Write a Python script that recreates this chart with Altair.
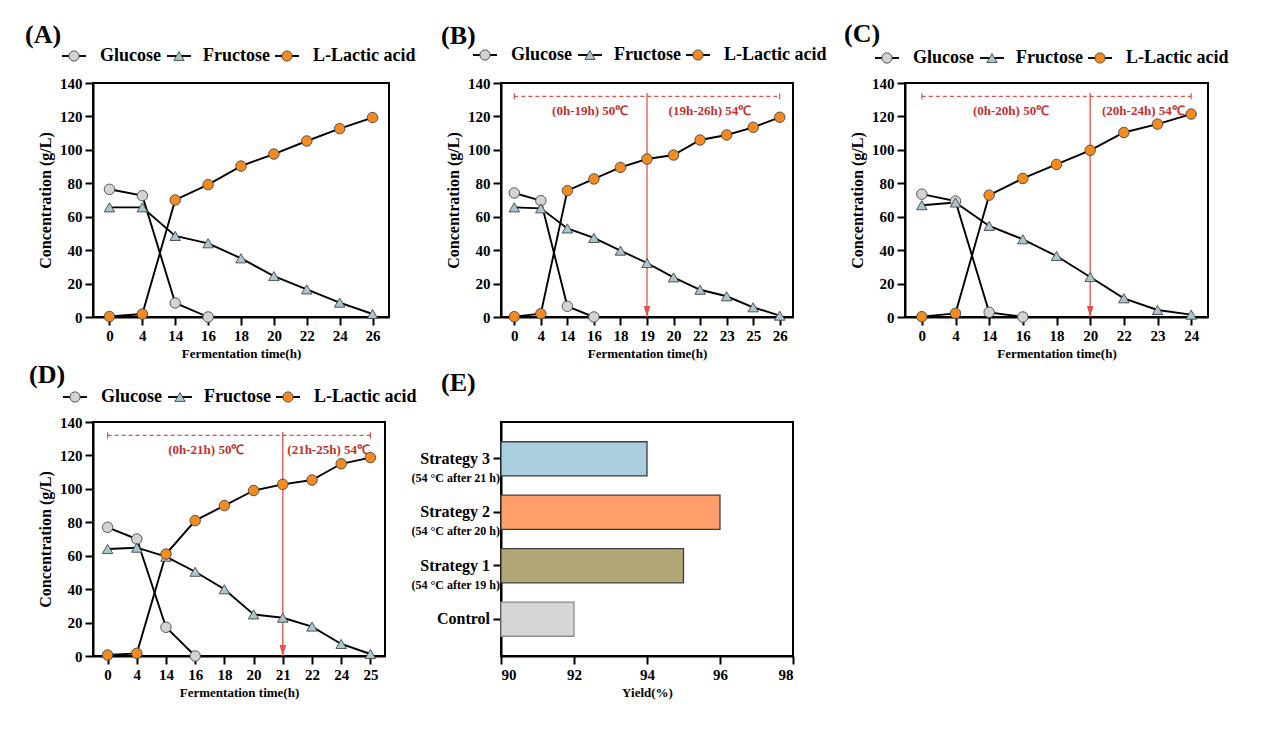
import altair as alt
import pandas as pd

FONT = "Liberation Serif"

# ---------------- fermentation time courses (g/L) ----------------
a_hours = [0, 4, 14, 16, 18, 20, 22, 24, 26]
a_glucose = [76.4, 72.6, 8.4, 0]
a_fructose = [65.6, 65.6, 48.5, 44.1, 35.1, 24.5, 16.5, 8.6, 1.8]
a_lactic = [0.3, 1.8, 70, 79.2, 90.3, 97.5, 105.3, 112.7, 119.3]

b_hours = [0, 4, 14, 16, 18, 19, 20, 22, 23, 25, 26]
b_glucose = [74.2, 69.6, 6.4, 0]
b_fructose = [65.6, 65, 53, 47.3, 39.7, 32.3, 23.7, 16.3, 12.4, 5.8, 0.8]
b_lactic = [0.2, 2, 75.6, 82.6, 89.5, 94.5, 96.9, 105.9, 108.9, 113.5, 119.5]

c_hours = [0, 4, 14, 16, 18, 20, 22, 23, 24]
c_glucose = [73.5, 69.3, 2.8, 0]
c_fructose = [66.9, 68.5, 54.5, 46.5, 36.5, 23.9, 11.2, 4.2, 1.4]
c_lactic = [0.2, 2.2, 72.9, 82.9, 91.3, 99.7, 110.4, 115.4, 121.4]

d_hours = [0, 4, 14, 16, 18, 20, 21, 22, 24, 25]
d_glucose = [77, 70, 17.2, 0]
d_fructose = [64, 64.8, 59.4, 50.4, 39.9, 24.9, 22.9, 17.6, 7.2, 1.2]
d_lactic = [0.6, 1.6, 61, 81, 90, 99, 102.7, 105.3, 115, 118.7]

# ---------------- yield comparison (%) ----------------
groups = ["Strategy 3", "Strategy 2", "Strategy 1", "Control"]
conditions = ["(54 °C after 21 h)", "(54 °C after 20 h)", "(54 °C after 19 h)", ""]
yields = [94, 96, 95, 92]
bar_fills = ["#a9cfdf", "#ff9e6b", "#b2a877", "#d6d6d6"]
bar_edges = ["#3c3c3c", "#3c3c3c", "#3c3c3c", "#8c8c8c"]

SERIES = ["Glucose", "Fructose", "L-Lactic acid"]
SHAPES = ["circle", "triangle-up", "circle"]
FILLS = ["#d3d3d3", "#a9c6cf", "#f58b1f"]
MARKER_EDGE = "#454545"
LINE_RED = "#e5504a"
NOTE_RED = "#c3302e"
ARROW_HEAD = "M-0.6,-1L0.6,-1L0,1Z"

LEGEND_SYMBOL_X = [-16, 89, 197]
LEGEND_TEXT_X = [10, 113, 223]

ONE_ROW = pd.DataFrame({"k": [0]})


def panel_tag(text, dx, dy):
    return alt.Chart(ONE_ROW).mark_text(
        text=text, font=FONT, fontWeight="bold", fontSize=26, color="black",
        align="left", baseline="middle"
    ).encode(x=alt.value(dx), y=alt.value(dy))


def series_legend(dx, dy):
    parts = []
    for name, shape, fill, sx, tx in zip(SERIES, SHAPES, FILLS, LEGEND_SYMBOL_X, LEGEND_TEXT_X):
        parts.append(alt.Chart(ONE_ROW).mark_rule(color="black", strokeWidth=1.9).encode(
            x=alt.value(dx + sx - 12), x2=alt.value(dx + sx + 12), y=alt.value(dy)))
        parts.append(alt.Chart(ONE_ROW).mark_point(
            shape=shape, filled=True, fill=fill, size=105, opacity=1,
            stroke=MARKER_EDGE, strokeWidth=0.9).encode(x=alt.value(dx + sx), y=alt.value(dy)))
        parts.append(alt.Chart(ONE_ROW).mark_text(
            text=name, font=FONT, fontWeight="bold", fontSize=18, color="black",
            align="left", baseline="middle").encode(x=alt.value(dx + tx), y=alt.value(dy)))
    return parts


def time_course(tag, hours, glucose, fructose, lactic, width, tag_pos, legend_pos, split=None):
    n = len(hours)
    steps = list(range(n))
    records = []
    for name, values in zip(SERIES, (glucose, fructose, lactic)):
        for i, v in enumerate(values):
            records.append({"step": i, "hour": hours[i], "series": name, "conc": v})
    df = pd.DataFrame(records)

    x_scale = alt.Scale(domain=[-0.5, n - 0.5], nice=False, zero=False)
    y_scale = alt.Scale(domain=[0, 140], nice=False)
    hour_lookup = "[" + ",".join(f"'{h}'" for h in hours) + "][datum.value]"
    x_axis = alt.Axis(values=steps, labelExpr=hour_lookup, title="Fermentation time(h)")
    y_axis = alt.Axis(values=list(range(0, 141, 20)), title="Concentration (g/L)")

    def xq(field):
        return alt.X(f"{field}:Q", scale=x_scale, axis=x_axis)

    def yq(field):
        return alt.Y(f"{field}:Q", scale=y_scale, axis=y_axis)

    layers = []
    if split is not None:
        s = hours.index(split["hour"])
        span = pd.DataFrame({"a": [0], "b": [n - 1], "level": [132]})
        caps = pd.DataFrame({"at": [0, n - 1], "lo": [130.2, 130.2], "hi": [133.8, 133.8]})
        switch = pd.DataFrame({"at": [s], "bottom": [0], "top": [134]})
        notes = pd.DataFrame({"pos": split["note_pos"], "level": [123, 123], "note": split["notes"]})
        layers += [
            alt.Chart(span).mark_rule(color=LINE_RED, strokeWidth=1.2, strokeDash=[4, 3]).encode(
                x=xq("a"), x2="b:Q", y=yq("level")),
            alt.Chart(caps).mark_rule(color=LINE_RED, strokeWidth=1.2).encode(
                x=xq("at"), y=yq("lo"), y2="hi:Q"),
            alt.Chart(switch).mark_rule(color=LINE_RED, strokeWidth=1.3).encode(
                x=xq("at"), y=yq("bottom"), y2="top:Q"),
            alt.Chart(switch).mark_point(shape=ARROW_HEAD, filled=True, fill=LINE_RED, size=121,
                                         opacity=1, strokeWidth=0, yOffset=-5.5).encode(
                x=xq("at"), y=yq("bottom")),
            alt.Chart(notes).mark_text(font=FONT, fontWeight="bold", fontSize=13, color=NOTE_RED,
                                       baseline="middle").encode(
                x=xq("pos"), y=yq("level"), text="note:N"),
        ]

    base = alt.Chart(df)
    layers.append(base.mark_line(color="black", strokeWidth=1.9).encode(
        x=xq("step"), y=yq("conc"), detail="series:N"))
    layers.append(base.mark_point(filled=True, size=110, opacity=1, stroke=MARKER_EDGE,
                                  strokeWidth=0.9).encode(
        x=xq("step"), y=yq("conc"),
        shape=alt.Shape("series:N", scale=alt.Scale(domain=SERIES, range=SHAPES), legend=None),
        fill=alt.Fill("series:N", scale=alt.Scale(domain=SERIES, range=FILLS), legend=None)))

    layers.append(panel_tag(tag, *tag_pos))
    layers += series_legend(*legend_pos)
    return alt.layer(*layers).properties(width=width, height=234)


panel_a = time_course("(A)", a_hours, a_glucose, a_fructose, a_lactic, 296, (-68, -48), (-3, -27))
panel_b = time_course("(B)", b_hours, b_glucose, b_fructose, b_lactic, 292, (-60, -47), (0, -28),
                      split={"hour": 19, "notes": ["(0h-19h) 50℃", "(19h-26h) 54℃"],
                             "note_pos": [2.86, 7.37]})
panel_c = time_course("(C)", c_hours, c_glucose, c_fructose, c_lactic, 303, (-61, -49), (-2, -25),
                      split={"hour": 20, "notes": ["(0h-20h) 50℃", "(20h-24h) 54℃"],
                             "note_pos": [2.65, 6.58]})
panel_d = time_course("(D)", d_hours, d_glucose, d_fructose, d_lactic, 292, (-64, -47), (-2, -25),
                      split={"hour": 21, "notes": ["(0h-21h) 50℃", "(21h-25h) 54℃"],
                             "note_pos": [3.38, 7.57]})

# ---------------- panel E: yield bars ----------------
ydf = pd.DataFrame({"group": groups, "condition": conditions, "yield": yields})
y_band = alt.Scale(domain=groups, paddingInner=0.36, paddingOuter=0.37)
bars = alt.Chart(ydf).mark_bar(strokeWidth=1.3, opacity=1).encode(
    x=alt.X("yield:Q", scale=alt.Scale(domain=[90, 98], nice=False, zero=False),
            axis=alt.Axis(values=[90, 92, 94, 96, 98], title="Yield(%)")),
    x2=alt.datum(90),
    y=alt.Y("group:N", scale=y_band, sort=groups,
            axis=alt.Axis(labels=False, title=None, ticks=True)),
    fill=alt.Fill("group:N", scale=alt.Scale(domain=groups, range=bar_fills), legend=None),
    stroke=alt.Stroke("group:N", scale=alt.Scale(domain=groups, range=bar_edges), legend=None),
)
group_names = alt.Chart(ydf).mark_text(font=FONT, fontWeight="bold", fontSize=16, color="black",
                                       align="right", baseline="middle").encode(
    x=alt.value(-11), y=alt.Y("group:N", scale=y_band, sort=groups), text="group:N")
group_notes = alt.Chart(ydf).mark_text(font=FONT, fontWeight="bold", fontSize=12, color="black",
                                       align="right", baseline="middle", yOffset=19).encode(
    x=alt.value(-1), y=alt.Y("group:N", scale=y_band, sort=groups), text="condition:N")
panel_e = alt.layer(bars, group_names, group_notes, panel_tag("(E)", -60, -39)).properties(
    width=292, height=234)

# three-column grid; plot areas are laid out edge to edge (axes ignored)
chart = alt.concat(
    panel_a, panel_b, panel_c, panel_d, panel_e,
    columns=3, spacing={"row": 105, "column": 112}, bounds="flush",
).resolve_scale(
    fill="independent", stroke="independent", shape="independent"
).properties(
    padding={"left": 24, "top": 20, "right": 5, "bottom": 5},
    background="white",
).configure_view(
    stroke="black", strokeWidth=2
).configure_axis(
    grid=False, domainColor="black", domainWidth=2, tickColor="black", tickWidth=2, tickSize=8,
    labelFont=FONT, labelFontWeight="bold", labelFontSize=15, labelColor="black", labelPadding=3,
    titleFont=FONT, titleFontWeight="bold", titleColor="black",
).configure_axisX(
    titleFontSize=13, titlePadding=4
).configure_axisY(
    titleFontSize=16, titlePadding=6
)

chart.save("out.html", embed_options={"renderer": "svg", "actions": False})
